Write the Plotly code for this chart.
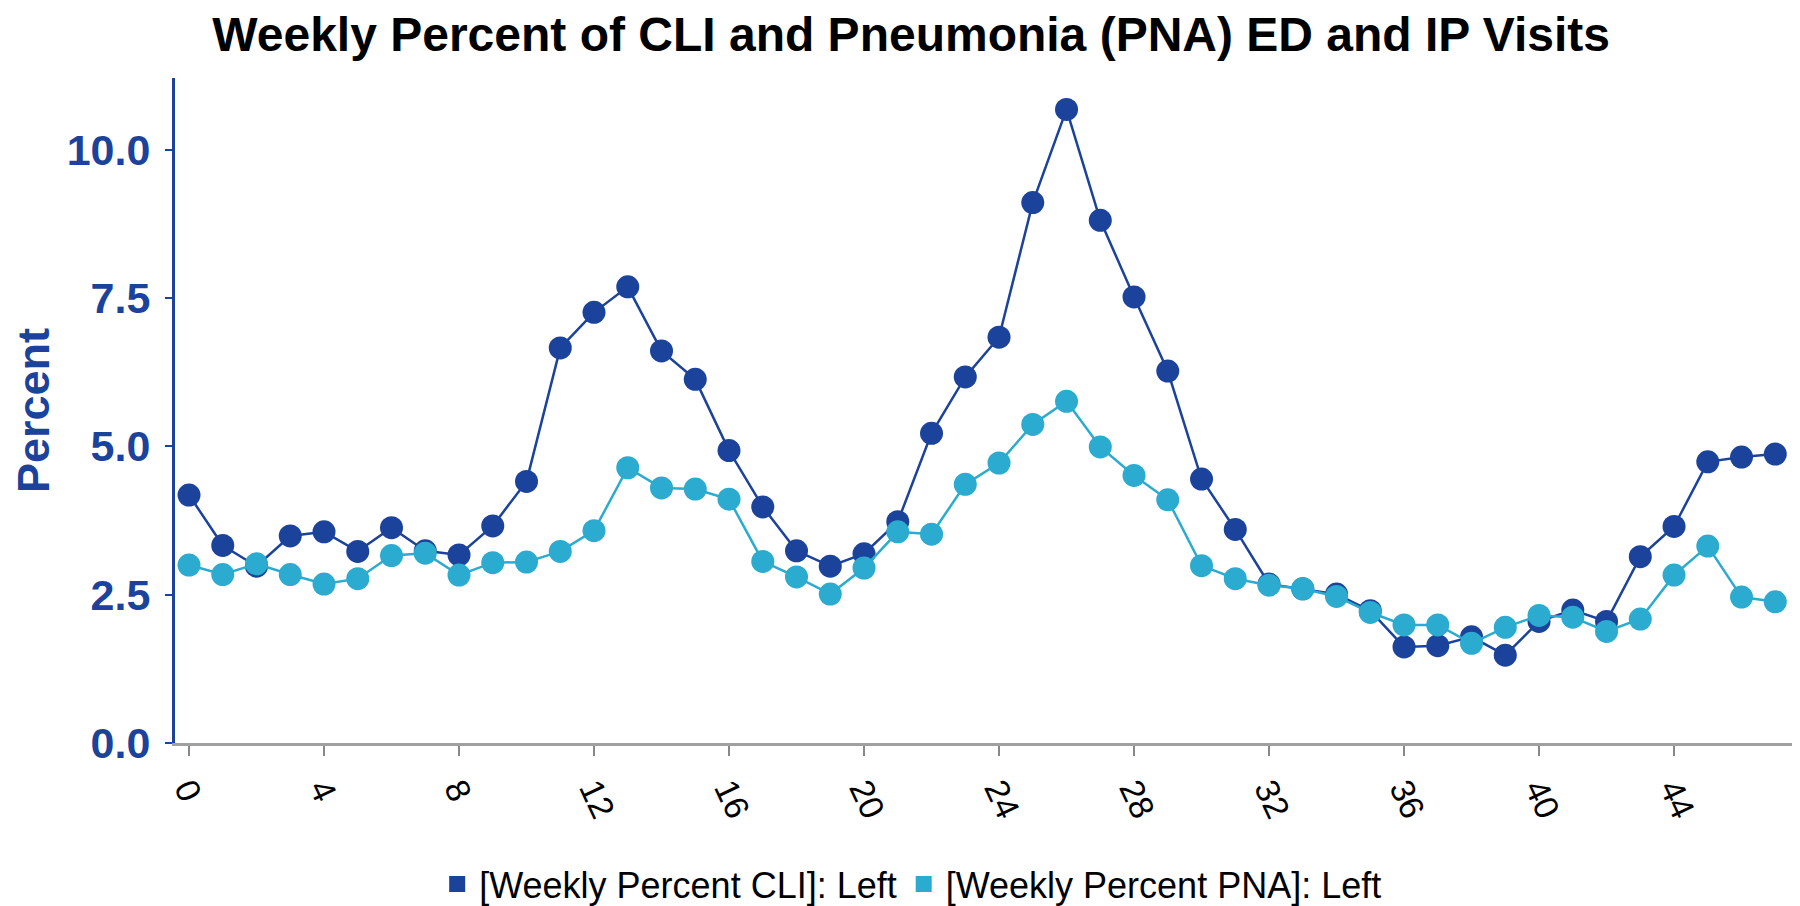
import plotly.graph_objects as go

weeks = list(range(48))
cli = [4.18, 3.33, 2.98, 3.49, 3.56, 3.23, 3.63, 3.24, 3.17, 3.66,
       4.41, 6.66, 7.26, 7.69, 6.61, 6.13, 4.93, 3.98, 3.24, 2.98,
       3.19, 3.73, 5.22, 6.17, 6.84, 9.11, 10.68, 8.81, 7.52, 6.27,
       4.45, 3.60, 2.68, 2.60, 2.51, 2.23, 1.62, 1.64, 1.79, 1.48,
       2.05, 2.24, 2.05, 3.14, 3.65, 4.74, 4.82, 4.87]
pna = [3.00, 2.84, 3.02, 2.84, 2.68, 2.77, 3.16, 3.20, 2.83, 3.04,
       3.05, 3.23, 3.58, 4.64, 4.30, 4.28, 4.11, 3.06, 2.80, 2.51,
       2.95, 3.56, 3.52, 4.36, 4.72, 5.37, 5.76, 4.99, 4.51, 4.10,
       2.99, 2.77, 2.66, 2.60, 2.47, 2.20, 1.99, 1.99, 1.68, 1.95,
       2.15, 2.12, 1.88, 2.09, 2.83, 3.32, 2.46, 2.38]
x_ticks = list(range(0, 48, 4))
y_ticks = [0, 2.5, 5.0, 7.5, 10.0]
names = ["[Weekly Percent CLI]: Left", "[Weekly Percent PNA]: Left"]

DARK = "#1b439b"
CYAN = "#2aabcf"
FONT = "Liberation Sans, Arial, sans-serif"

W, H = 1792, 898  # page body has an 8px margin

fig = go.Figure()
for vals, col in ((cli, DARK), (pna, CYAN)):
    fig.add_trace(go.Scatter(
        x=weeks, y=vals, mode="lines+markers",
        line=dict(color=col, width=2.5),
        marker=dict(color=col, size=23),
        showlegend=False,
    ))
for nm, col in zip(names, (DARK, CYAN)):
    fig.add_trace(go.Scatter(
        x=[None], y=[None], mode="markers", name=nm,
        marker=dict(color=col, size=26, symbol="square"),
    ))

fig.update_layout(
    width=W, height=H,
    paper_bgcolor="white", plot_bgcolor="white",
    margin=dict(l=167, r=7, t=70, b=163, autoexpand=False),
    font=dict(family=FONT, color="black"),
    title=dict(
        text="<b>Weekly Percent of CLI and Pneumonia (PNA) ED and IP Visits</b>",
        x=0.504, xanchor="center", y=1 - 26 / H, yanchor="middle",
        yref="container",
        font=dict(size=48, color="black", family=FONT),
    ),
    legend=dict(
        orientation="h", x=0.455, xanchor="center",
        yref="container", y=1 - 876 / H, yanchor="middle",
        font=dict(size=36, color="black", family=FONT),
        itemsizing="trace", itemwidth=34,
    ),
)
fig.update_xaxes(
    range=[-0.415, 47.525], automargin=False,
    tickvals=x_ticks, ticktext=[str(v) for v in x_ticks],
    tickangle=65,
    tickfont=dict(size=34, color="black", family=FONT),
    showgrid=False, zeroline=False,
    showline=True, linecolor="#a0a0a0", linewidth=3,
    ticks="outside", ticklen=10, tickwidth=2, tickcolor="#888888",
)
fig.update_yaxes(
    range=[0, 11.21], automargin=False,
    tickvals=y_ticks, tickformat=".1f",
    tickfont=dict(size=43, color=DARK, family=FONT, weight="bold"),
    showgrid=False, zeroline=False,
    showline=True, linecolor=DARK, linewidth=3,
    ticks="outside", ticklen=7, tickwidth=2, tickcolor=DARK,
    ticklabelstandoff=6,
    title=dict(text="<b>Percent</b>", font=dict(size=45, color=DARK, family=FONT), standoff=22),
)

fig.write_html("out.html")
